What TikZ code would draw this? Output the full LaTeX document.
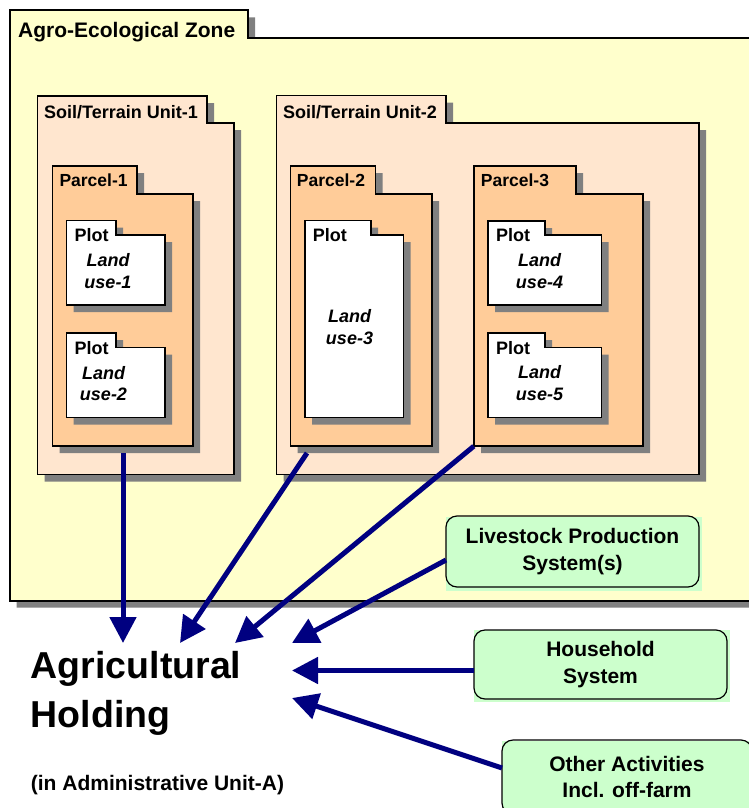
\documentclass[tikz,border=0pt]{standalone}
\usepackage{fontspec}
\setmainfont{Liberation Sans}
\usetikzlibrary{arrows.meta,fit}

\definecolor{zonefill}{HTML}{FFFFCC}
\definecolor{soilfill}{HTML}{FFE6CF}
\definecolor{parcelfill}{HTML}{FFCC99}
\definecolor{sysfill}{HTML}{CCFFCC}
\definecolor{dropgray}{HTML}{808080}
\definecolor{flownavy}{HTML}{000080}

% folder-like box with a tab and a drop shadow
% #1 name, #2 style, #3 left, #4 top, #5 tab right, #6 tab bottom, #7 right, #8 bottom
\newcommand\folderbox[8]{%
  \fill[dropgray, shift={(7,7)}] (#3,#4) -- (#5,#4) -- (#5,#6) -- (#7,#6) -- (#7,#8) -- (#3,#8) -- cycle;
  \path[#2] (#3,#4) -- (#5,#4) -- (#5,#6) -- (#7,#6) -- (#7,#8) -- (#3,#8) -- cycle;
  \node[fit={(#3,#6) (#7,#8)}, inner sep=0pt] (#1) {};
}

\tikzset{
  zonebox/.style={fill=zonefill, draw=black, line width=2pt},
  soilbox/.style={fill=soilfill, draw=black, line width=1.2pt},
  parcelbox/.style={fill=parcelfill, draw=black, line width=1.2pt},
  plotbox/.style={fill=white, draw=black, line width=1.2pt},
  lbl/.style={anchor=base west, inner sep=0pt, font=\bfseries\fontsize{#1}{#1}\selectfont},
  % multi-line text: the base anchor sits on the last line
  landuse/.style={anchor=base, inner sep=0pt, align=center,
    font=\bfseries\itshape\fontsize{18}{21.3}\selectfont},
  sysbox/.style={draw=black, line width=1.2pt, rounded corners=11pt, inner sep=0pt,
    align=center, font=\bfseries\fontsize{21}{26.5}\selectfont},
  flow/.style={draw=flownavy, line width=5pt, -{Triangle[length=26pt,width=26pt]}},
}

\begin{document}
\begin{tikzpicture}[x=1pt, y=-1pt]
\useasboundingbox (0,0) rectangle (749,808);
\clip (0,0) rectangle (749,808);

% nested land units
\folderbox{zone}{zonebox}{9.5}{10.5}{248}{38.5}{770}{600.5}
\folderbox{soil1}{soilbox}{37.5}{96}{207}{123}{234}{474.5}
\folderbox{soil2}{soilbox}{276.5}{95.5}{446}{123}{699}{474.5}
\folderbox{parcel1}{parcelbox}{52.7}{166}{137}{194}{193}{446}
\folderbox{parcel2}{parcelbox}{290.7}{166}{375.7}{194}{432}{446}
\folderbox{parcel3}{parcelbox}{474}{166}{576}{194}{643}{446}
\folderbox{plot1}{plotbox}{66.7}{220.7}{116}{235}{165}{305}
\folderbox{plot2}{plotbox}{66.7}{333}{116}{347.7}{165}{417.7}
\folderbox{plot3}{plotbox}{305}{220.7}{371}{235}{403.7}{417.7}
\folderbox{plot4}{plotbox}{488}{221}{545}{235}{601.7}{305}
\folderbox{plot5}{plotbox}{488}{333}{545}{347.7}{601.7}{417.7}

% tab labels
\node[lbl=21] (zonelbl) at (18,37.3) {Agro-Ecological Zone};
\node[lbl=18] (soil1lbl) at (44,118.3) {Soil/Terrain Unit-1};
\node[lbl=18] (soil2lbl) at (283,118.3) {Soil/Terrain Unit-2};
\node[lbl=17.5] (parcel1lbl) at (59.3,186.7) {Parcel-1};
\node[lbl=17.5] (parcel2lbl) at (296.7,186.7) {Parcel-2};
\node[lbl=17.5] (parcel3lbl) at (480.7,186.7) {Parcel-3};
\node[lbl=18] (plot1lbl) at (74.3,241.7) {Plot};
\node[lbl=18] (plot2lbl) at (74.3,354) {Plot};
\node[lbl=18] (plot3lbl) at (312.7,241.7) {Plot};
\node[lbl=18] (plot4lbl) at (496,241.7) {Plot};
\node[lbl=18] (plot5lbl) at (496,354) {Plot};

% land uses
\node[landuse] (lu1) at (108,288) {Land\\use-1};
\node[landuse] (lu2) at (103.5,400.7) {Land\\use-2};
\node[landuse] (lu3) at (349.5,344) {Land\\use-3};
\node[landuse] (lu4) at (539.5,288) {Land\\use-4};
\node[landuse] (lu5) at (539.5,400) {Land\\use-5};

% systems feeding the holding
\fill[sysfill] (446,517) rectangle (702,591);
\node[sysbox, minimum width=253pt, minimum height=71pt] (live) at (572.5,551.5)
  {Livestock Production\\System(s)};
\fill[sysfill] (474,630) rectangle (730,702);
\node[sysbox, minimum width=253pt, minimum height=69pt] (house) at (600.5,664.5)
  {Household\\System};
\fill[sysfill] (502,741) rectangle (760,818);
\node[sysbox, minimum width=250pt, minimum height=74pt] (other) at (627,777)
  {Other Activities\\Incl. off-farm};

% the holding
\node[anchor=base west, inner sep=0pt, align=left,
  font=\bfseries\fontsize{37.5}{49}\selectfont] (hold) at (30.7,727) {Agricultural\\Holding};
\node[lbl=21] (admin) at (30.7,790) {(in Administrative Unit-A)};

% connector ends
\coordinate (s1) at (123,453);
\coordinate (s2) at (307,453);
\coordinate (s3) at (parcel3.south west);
\coordinate (s4) at (446,560);
\coordinate (s5) at (474,670.5);
\coordinate (s6) at (502,768);
\coordinate (t1) at (123,643);
\coordinate (t2) at (180,643);
\coordinate (t3) at (235,643);
\coordinate (t4) at (292,643);
\coordinate (t5) at (292,670.5);
\coordinate (t6) at (292,698);

\draw[flow] (s1) -- (t1);
\draw[flow] (s2) -- (t2);
\draw[flow] (s3) -- (t3);
\draw[flow] (s4) -- (t4);
\draw[flow] (s5) -- (t5);
\draw[flow] (s6) -- (t6);
\end{tikzpicture}
\end{document}
